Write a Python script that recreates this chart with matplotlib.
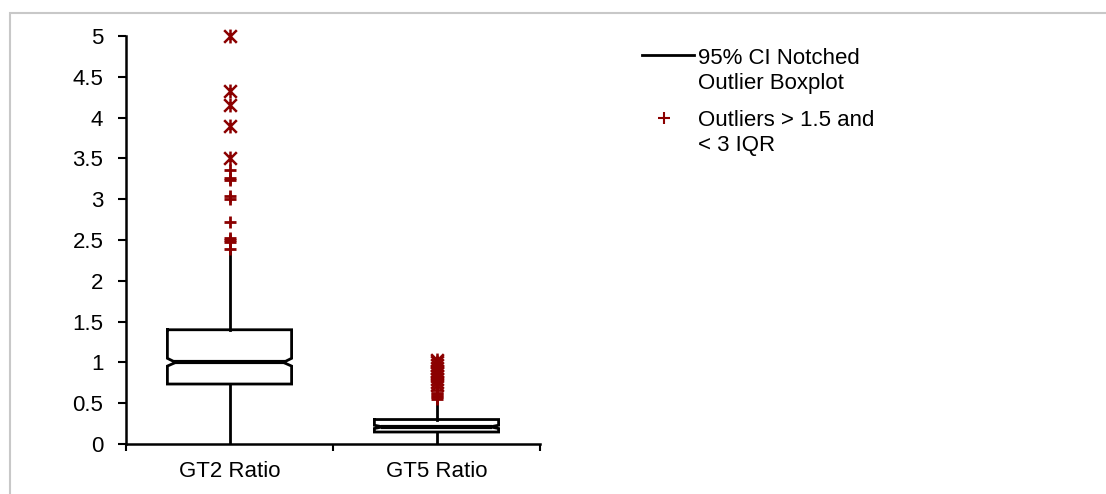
import matplotlib
matplotlib.use("Agg")
import matplotlib.pyplot as plt
from matplotlib.path import Path
from matplotlib.patches import Rectangle
from matplotlib.lines import Line2D
import numpy as np

plt.rcParams['font.family'] = ['Liberation Sans', 'DejaVu Sans']

# ---- data ----
categories = ["GT2 Ratio", "GT5 Ratio"]
q1 = [0.735, 0.147]
median = [1.0, 0.21]
q3 = [1.40, 0.30]
notch_lo = [0.955, 0.19]
notch_hi = [1.05, 0.23]
whisker_lo = [0.0, 0.0]
whisker_hi = [2.36, 0.52]
mild_gt2 = [2.39, 2.47, 2.50, 2.52, 2.72, 3.0, 3.04, 3.23, 3.26, 3.36]
extreme_gt2 = [3.51, 3.90, 4.15, 4.33, 5.0]
mild_gt5 = [0.55, 0.57, 0.59, 0.61, 0.63, 0.66]
extreme_gt5 = [0.72, 0.76, 0.80, 0.83, 0.87, 0.90, 0.93, 0.97, 1.00, 1.03]
yticks = [0, 0.5, 1, 1.5, 2, 2.5, 3, 3.5, 4, 4.5, 5]
ytick_labels = ["0", "0.5", "1", "1.5", "2", "2.5", "3", "3.5", "4", "4.5", "5"]
legend_lines = ["95% CI Notched", "Outlier Boxplot", "Outliers > 1.5 and", "< 3 IQR"]

outlier_color = "#8B0000"
FS = 16
star = Path([(-1, -1), (1, 1), (-1, 1), (1, -1), (0, -1.1), (0, 1.1)],
            [Path.MOVETO, Path.LINETO, Path.MOVETO, Path.LINETO, Path.MOVETO, Path.LINETO])

W, H = 1106, 494
fig = plt.figure(figsize=(W / 100, H / 100), dpi=100)
# outer light frame
fig.patches.append(Rectangle((10 / W, -0.1), 1.2, 1 - 13 / H + 0.1,
                             transform=fig.transFigure, fill=False,
                             edgecolor="#c8c8c8", linewidth=1.5))
ax = fig.add_axes([126 / W, 1 - 444 / H, (540 - 126) / W, (444 - 36) / H])

halfw = 0.3
nd = 0.04
lw = 2.0
for i in range(len(categories)):
    p = i + 1
    xs = [p - halfw, p + halfw, p + halfw, p + halfw - nd, p + halfw, p + halfw,
          p - halfw, p - halfw, p - halfw + nd, p - halfw, p - halfw]
    ys = [q3[i], q3[i], notch_hi[i], median[i], notch_lo[i], q1[i],
          q1[i], notch_lo[i], median[i], notch_hi[i], q3[i]]
    ax.plot(xs, ys, color="black", lw=lw, solid_joinstyle="miter", zorder=3)
    ax.plot([p - halfw + nd, p + halfw - nd], [median[i], median[i]], color="black", lw=lw + 1, zorder=3)
    ax.plot([p, p], [q3[i], whisker_hi[i]], color="black", lw=lw, zorder=2)
    ax.plot([p, p], [q1[i], whisker_lo[i]], color="black", lw=lw, zorder=2)

mild = [mild_gt2, mild_gt5]
extreme = [extreme_gt2, extreme_gt5]
for i in range(len(categories)):
    p = i + 1
    ax.plot([p] * len(mild[i]), mild[i], linestyle="none", marker="+", ms=9, mew=2,
            color=outlier_color, zorder=4, clip_on=False)
    ax.plot([p] * len(extreme[i]), extreme[i], linestyle="none", marker=star, ms=10, mew=1.8,
            color=outlier_color, zorder=4, clip_on=False)

ax.set_xlim(0.5, 2.5)
ax.set_ylim(0, 5)
ax.set_yticks(yticks)
ax.set_yticklabels(ytick_labels)
ax.set_xticks([0.5, 1.5, 2.5])
ax.set_xticklabels([])
ax.set_xticks([1, 2], minor=True)
ax.set_xticklabels(categories, minor=True)
ax.tick_params(axis="x", which="minor", length=0, pad=12, labelsize=FS)
ax.tick_params(axis="x", which="major", length=5, width=1.5, direction="out")
ax.tick_params(axis="y", length=5.8, width=1.5, direction="out", labelsize=FS, pad=10.5)
for s in ["top", "right"]:
    ax.spines[s].set_visible(False)
for s in ["left", "bottom"]:
    ax.spines[s].set_linewidth(1.8)
ax.patch.set_alpha(0)

# legend
fig.add_artist(Line2D([642 / W, 694 / W], [1 - 55 / H, 1 - 55 / H],
                      transform=fig.transFigure, color="black", lw=2))
fig.add_artist(Line2D([664 / W], [1 - 118 / H], transform=fig.transFigure,
                      marker="+", ms=9, mew=1.5, color=outlier_color, linestyle="none"))
baselines = [64, 89, 126, 151]
for txt, b in zip(legend_lines, baselines):
    fig.text(698 / W, 1 - b / H, txt, fontsize=FS, va="baseline", ha="left")

fig.savefig("out.png", dpi=100, facecolor="white")
